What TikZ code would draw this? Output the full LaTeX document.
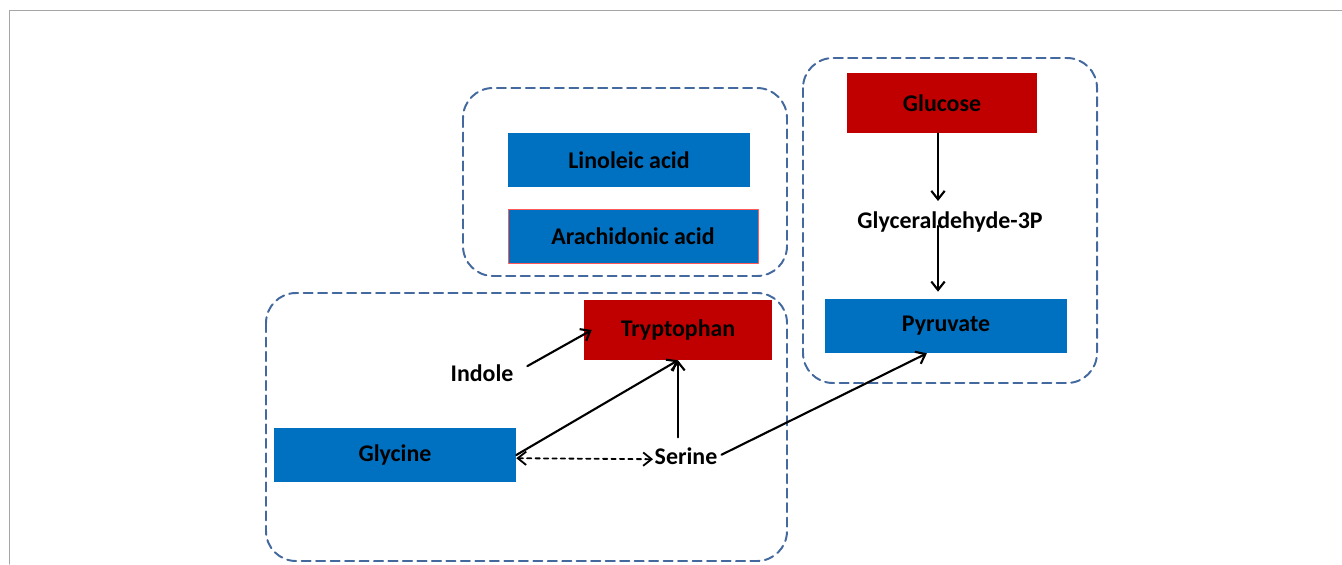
\documentclass[tikz,border=0pt]{standalone}
\usepackage{fontspec}
\setmainfont{Carlito}
\usetikzlibrary{arrows.meta}
\definecolor{boxblue}{RGB}{0,112,192}
\definecolor{boxred}{RGB}{192,0,0}
\definecolor{grpline}{RGB}{68,105,158}
\tikzset{
  bluebox/.style={fill=boxblue, minimum width=60.5mm, minimum height=13.5mm, inner sep=0pt},
  redbox/.style={fill=boxred, minimum height=15mm, inner sep=0pt},
  group/.style={grpline, line width=1.4pt, dash pattern=on 6.5pt off 3.8pt, rounded corners=7.5mm},
  label/.style={inner sep=1pt}
}
\begin{document}
\begin{tikzpicture}[x=0.25mm, y=-0.25mm, >={Straight Barb[length=6pt,width=9.5pt]}, font=\bfseries\fontsize{17}{20}\selectfont, line join=round, line cap=round]
        \useasboundingbox (0,0) rectangle (1342,564);
        \draw[gray!70, line width=0.7pt] (9,564)--(9,10)--(1342,10);
        % dashed groups
        \draw[group] (463,88) rectangle (787,276);
        \draw[group] (803,58) rectangle (1097,383);
        \draw[group] (266,293) rectangle (787,561);
        % fatty acids
        \node[bluebox] (lino) at (629,160) {Linoleic acid};
        \node[bluebox, minimum width=62.5mm, draw=red!65, line width=0.6pt] (arach) at (633,236) {Arachidonic acid};
        % glycolysis
        \node[redbox, minimum width=47.5mm] (glucose) at (942,103) {Glucose};
        \node[label] (glyc) at (950,222) {Glyceraldehyde-3P};
        \node[bluebox] (pyruvate) at (946,326) {Pyruvate};
        % amino acids
        \node[redbox, minimum width=47mm] (trp) at (678,330) {Tryptophan};
        \node[bluebox] (gly) at (395,455) {Glycine};
        \node[label] (indole) at (482,373) {Indole};
        \node[label] (serine) at (686,456) {Serine};
        \begin{scope}[line width=1.5pt]
        \draw[->] (glucose.south -| 938,0) -- (938,201);
        \draw[->, shorten >=5pt] (938,226) -- (pyruvate.north -| 938,0);
        \draw[->, shorten <=10pt] (indole.east) -- ([xshift=2mm]trp.west);
        \draw[->] (gly.east) -- (trp.south);
        \draw[->, shorten <=6pt] (serine.north -| trp.south) -- (trp.south);
        \draw[<->, dashed, line width=1.3pt] ([yshift=-0.8mm]gly.east) -- ([yshift=-0.8mm]serine.west);
        \draw[->, shorten <=2pt] (serine.east) -- (pyruvate.235);
        \end{scope}
    \end{tikzpicture}
\end{document}
